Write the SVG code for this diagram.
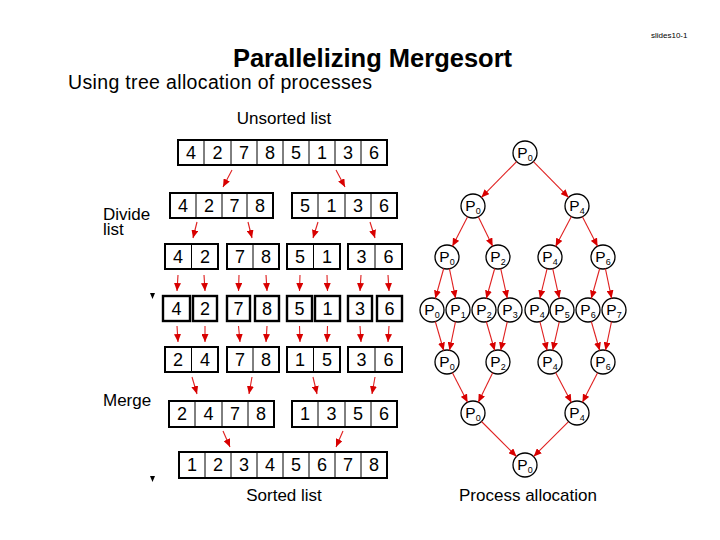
<svg xmlns="http://www.w3.org/2000/svg" width="720" height="540" viewBox="0 0 720 540">
<style>
text{font-family:"Liberation Sans",Arial,sans-serif;fill:#000}
.box{fill:#fff;stroke:#000;stroke-width:2}
.div{stroke:#000;stroke-width:1}
.cell{fill:#fff;stroke:#000;stroke-width:2.4}
.d{font-size:18px;text-anchor:middle}
.lbl{font-size:17px}
.c{fill:#fff;stroke:#000;stroke-width:1.3}
.p{font-size:15.5px;text-anchor:middle}
.s{font-size:9px}
.a{stroke:#e02020;stroke-width:1.1;fill:none;marker-end:url(#ah)}
</style>
<defs>
<marker id="ah" markerUnits="userSpaceOnUse" markerWidth="9" markerHeight="7" refX="8" refY="3.5" orient="auto">
<path d="M0,0 L8,3.5 L0,7 Z" fill="#d80000"/>
</marker>
</defs>
<rect width="720" height="540" fill="#fff"/>
<text x="651" y="38" style="font-size:8px">slides10-1</text>
<text x="372.5" y="67" style="font-size:25.5px;font-weight:bold;text-anchor:middle">Parallelizing Mergesort</text>
<text x="68" y="89" style="font-size:19.5px" textLength="304">Using tree allocation of processes</text>
<text x="284" y="124" class="lbl" text-anchor="middle">Unsorted list</text>
<text x="103" y="220" class="lbl">Divide</text>
<text x="103" y="235" class="lbl">list</text>
<text x="103" y="406" class="lbl">Merge</text>
<text x="284" y="501" class="lbl" text-anchor="middle">Sorted list</text>
<text x="528" y="501" class="lbl" text-anchor="middle">Process allocation</text>
<polygon points="150,293 155,293 152.5,299" fill="#000"/>
<polygon points="150,476 155,476 152.5,482" fill="#000"/>

<g id="row1">
<rect class="box" x="178" y="140" width="209" height="25"/>
<path class="div" d="M204,140V165M231,140V165M257,140V165M283,140V165M309,140V165M335,140V165M361,140V165"/>
<text class="d" y="159"><tspan x="191">4</tspan><tspan x="217.5">2</tspan><tspan x="244">7</tspan><tspan x="270">8</tspan><tspan x="296">5</tspan><tspan x="322">1</tspan><tspan x="348">3</tspan><tspan x="374">6</tspan></text>
</g>
<g id="row2">
<rect class="box" x="170" y="193" width="103" height="25"/>
<path class="div" d="M196,193V218M222,193V218M247,193V218"/>
<rect class="box" x="292" y="193" width="105" height="25"/>
<path class="div" d="M318,193V218M345,193V218M371,193V218"/>
<text class="d" y="212"><tspan x="183">4</tspan><tspan x="209">2</tspan><tspan x="234.5">7</tspan><tspan x="260">8</tspan><tspan x="305">5</tspan><tspan x="331.5">1</tspan><tspan x="358">3</tspan><tspan x="384">6</tspan></text>
</g>
<g id="row3">
<rect class="box" x="165" y="244" width="53" height="25"/>
<rect class="box" x="227" y="244" width="52" height="25"/>
<rect class="box" x="287" y="244" width="53" height="25"/>
<rect class="box" x="348" y="244" width="54" height="25"/>
<path class="div" d="M191.5,244V269M253,244V269M313.5,244V269M375,244V269"/>
<text class="d" y="263"><tspan x="178">4</tspan><tspan x="205">2</tspan><tspan x="240">7</tspan><tspan x="266">8</tspan><tspan x="300">5</tspan><tspan x="327">1</tspan><tspan x="361.5">3</tspan><tspan x="388.5">6</tspan></text>
</g>
<g id="row4">
<rect class="cell" x="163" y="296" width="27" height="25"/>
<rect class="cell" x="193" y="296" width="24" height="25"/>
<rect class="cell" x="227" y="296" width="23" height="25"/>
<rect class="cell" x="255" y="296" width="24" height="25"/>
<rect class="cell" x="287" y="296" width="25" height="25"/>
<rect class="cell" x="315" y="296" width="25" height="25"/>
<rect class="cell" x="348" y="296" width="24" height="25"/>
<rect class="cell" x="377" y="296" width="25" height="25"/>
<text class="d" y="315"><tspan x="176.5">4</tspan><tspan x="205">2</tspan><tspan x="238.5">7</tspan><tspan x="267">8</tspan><tspan x="299.5">5</tspan><tspan x="327.5">1</tspan><tspan x="360">3</tspan><tspan x="389.5">6</tspan></text>
</g>
<g id="row5">
<rect class="box" x="165" y="347" width="53" height="25"/>
<rect class="box" x="227" y="347" width="52" height="25"/>
<rect class="box" x="287" y="347" width="53" height="25"/>
<rect class="box" x="348" y="347" width="54" height="25"/>
<path class="div" d="M191.5,347V372M253,347V372M313.5,347V372M375,347V372"/>
<text class="d" y="366"><tspan x="178">2</tspan><tspan x="205">4</tspan><tspan x="240">7</tspan><tspan x="266">8</tspan><tspan x="300">1</tspan><tspan x="327">5</tspan><tspan x="361.5">3</tspan><tspan x="388.5">6</tspan></text>
</g>
<g id="row6">
<rect class="box" x="169" y="401" width="105" height="26"/>
<path class="div" d="M195,401V427M222,401V427M248,401V427"/>
<rect class="box" x="292" y="401" width="105" height="26"/>
<path class="div" d="M318,401V427M345,401V427M371,401V427"/>
<text class="d" y="420"><tspan x="182">2</tspan><tspan x="208.5">4</tspan><tspan x="235">7</tspan><tspan x="261">8</tspan><tspan x="305">1</tspan><tspan x="331.5">3</tspan><tspan x="358">5</tspan><tspan x="384">6</tspan></text>
</g>
<g id="row7">
<rect class="box" x="179" y="452" width="208" height="26"/>
<path class="div" d="M205,452V478M231,452V478M257,452V478M283,452V478M309,452V478M335,452V478M361,452V478"/>
<text class="d" y="471"><tspan x="192">1</tspan><tspan x="218">2</tspan><tspan x="244">3</tspan><tspan x="270">4</tspan><tspan x="296">5</tspan><tspan x="322">6</tspan><tspan x="348">7</tspan><tspan x="374">8</tspan></text>
</g>

<g id="t-root"><circle class="c" cx="525" cy="153" r="12"/><text class="p" x="525" y="158">P<tspan class="s" dy="3">0</tspan></text></g>
<g id="t-l2a"><circle class="c" cx="473" cy="206" r="12"/><text class="p" x="473" y="211">P<tspan class="s" dy="3">0</tspan></text></g>
<g id="t-l2b"><circle class="c" cx="577" cy="206" r="12"/><text class="p" x="577" y="211">P<tspan class="s" dy="3">4</tspan></text></g>
<g id="t-l3a"><circle class="c" cx="447" cy="257" r="12"/><text class="p" x="447" y="262">P<tspan class="s" dy="3">0</tspan></text></g>
<g id="t-l3b"><circle class="c" cx="498" cy="257" r="12"/><text class="p" x="498" y="262">P<tspan class="s" dy="3">2</tspan></text></g>
<g id="t-l3c"><circle class="c" cx="550" cy="257" r="12"/><text class="p" x="550" y="262">P<tspan class="s" dy="3">4</tspan></text></g>
<g id="t-l3d"><circle class="c" cx="603" cy="257" r="12"/><text class="p" x="603" y="262">P<tspan class="s" dy="3">6</tspan></text></g>
<g id="t-l4a"><circle class="c" cx="432" cy="310" r="12"/><text class="p" x="432" y="315">P<tspan class="s" dy="3">0</tspan></text></g>
<g id="t-l4b"><circle class="c" cx="458" cy="310" r="12"/><text class="p" x="458" y="315">P<tspan class="s" dy="3">1</tspan></text></g>
<g id="t-l4c"><circle class="c" cx="484" cy="310" r="12"/><text class="p" x="484" y="315">P<tspan class="s" dy="3">2</tspan></text></g>
<g id="t-l4d"><circle class="c" cx="510" cy="310" r="12"/><text class="p" x="510" y="315">P<tspan class="s" dy="3">3</tspan></text></g>
<g id="t-l4e"><circle class="c" cx="537" cy="310" r="12"/><text class="p" x="537" y="315">P<tspan class="s" dy="3">4</tspan></text></g>
<g id="t-l4f"><circle class="c" cx="562" cy="310" r="12"/><text class="p" x="562" y="315">P<tspan class="s" dy="3">5</tspan></text></g>
<g id="t-l4g"><circle class="c" cx="588" cy="310" r="12"/><text class="p" x="588" y="315">P<tspan class="s" dy="3">6</tspan></text></g>
<g id="t-l4h"><circle class="c" cx="614" cy="310" r="12"/><text class="p" x="614" y="315">P<tspan class="s" dy="3">7</tspan></text></g>
<g id="t-l5a"><circle class="c" cx="447" cy="362" r="12"/><text class="p" x="447" y="367">P<tspan class="s" dy="3">0</tspan></text></g>
<g id="t-l5b"><circle class="c" cx="498" cy="362" r="12"/><text class="p" x="498" y="367">P<tspan class="s" dy="3">2</tspan></text></g>
<g id="t-l5c"><circle class="c" cx="550" cy="362" r="12"/><text class="p" x="550" y="367">P<tspan class="s" dy="3">4</tspan></text></g>
<g id="t-l5d"><circle class="c" cx="603" cy="362" r="12"/><text class="p" x="603" y="367">P<tspan class="s" dy="3">6</tspan></text></g>
<g id="t-l6a"><circle class="c" cx="473" cy="413" r="12"/><text class="p" x="473" y="418">P<tspan class="s" dy="3">0</tspan></text></g>
<g id="t-l6b"><circle class="c" cx="577" cy="413" r="12"/><text class="p" x="577" y="418">P<tspan class="s" dy="3">4</tspan></text></g>
<g id="t-l7"><circle class="c" cx="525" cy="465" r="12"/><text class="p" x="525" y="470">P<tspan class="s" dy="3">0</tspan></text></g>

<g id="connectors">
<path class="a" d="M232,170L223,187"/>
<path class="a" d="M336,170L345,187"/>
<path class="a" d="M197,222L193,238"/>
<path class="a" d="M248,222L252,238"/>
<path class="a" d="M318,222L313,238"/>
<path class="a" d="M370,222L375,238"/>
<path class="a" d="M178,275L177,291"/>
<path class="a" d="M204,275L205,291"/>
<path class="a" d="M239,275L238.5,291"/>
<path class="a" d="M266,275L267,291"/>
<path class="a" d="M300,275L299.5,291"/>
<path class="a" d="M327,275L327.5,291"/>
<path class="a" d="M361,275L360,291"/>
<path class="a" d="M388,275L389,291"/>
<path class="a" d="M177,326L178,342"/>
<path class="a" d="M205,326L205,342"/>
<path class="a" d="M238.5,326L240,342"/>
<path class="a" d="M267,326L266,342"/>
<path class="a" d="M299.5,326L300,342"/>
<path class="a" d="M327.5,326L327,342"/>
<path class="a" d="M360,326L361,342"/>
<path class="a" d="M389,326L388,342"/>
<path class="a" d="M192,377L197,394"/>
<path class="a" d="M252,377L249,394"/>
<path class="a" d="M313,377L317,394"/>
<path class="a" d="M375,377L372,394"/>
<path class="a" d="M223,431L230,447"/>
<path class="a" d="M343,431L336,447"/>

<path class="a" d="M516.6,161.6L481.4,197.4"/>
<path class="a" d="M533.4,161.6L568.6,197.4"/>
<path class="a" d="M467.6,216.7L452.4,246.3"/>
<path class="a" d="M478.3,216.8L492.7,246.2"/>
<path class="a" d="M571.4,216.6L555.6,246.4"/>
<path class="a" d="M582.4,216.7L597.6,246.3"/>
<path class="a" d="M443.7,268.5L435.3,298.5"/>
<path class="a" d="M449.4,268.7L455.6,298.3"/>
<path class="a" d="M494.7,268.5L486.3,298.5"/>
<path class="a" d="M500.7,268.7L507.3,298.3"/>
<path class="a" d="M547.1,268.7L539.9,298.3"/>
<path class="a" d="M552.7,268.7L559.3,298.3"/>
<path class="a" d="M599.7,268.5L591.3,298.5"/>
<path class="a" d="M605.4,268.7L611.6,298.3"/>
<path class="a" d="M435.3,321.5L443.7,350.5"/>
<path class="a" d="M455.5,321.7L449.5,350.3"/>
<path class="a" d="M486.3,321.5L494.7,350.5"/>
<path class="a" d="M507.3,321.7L500.7,350.3"/>
<path class="a" d="M539.9,321.6L547.1,350.4"/>
<path class="a" d="M559.3,321.7L552.7,350.3"/>
<path class="a" d="M591.3,321.5L599.7,350.5"/>
<path class="a" d="M611.5,321.7L605.5,350.3"/>
<path class="a" d="M452.4,372.7L467.6,402.3"/>
<path class="a" d="M492.7,372.8L478.3,402.2"/>
<path class="a" d="M555.6,372.6L571.4,402.4"/>
<path class="a" d="M597.6,372.7L582.4,402.3"/>
<path class="a" d="M481.5,421.5L516.5,456.5"/>
<path class="a" d="M568.3,421.8L533.7,456.4"/>
</g>
</svg>
